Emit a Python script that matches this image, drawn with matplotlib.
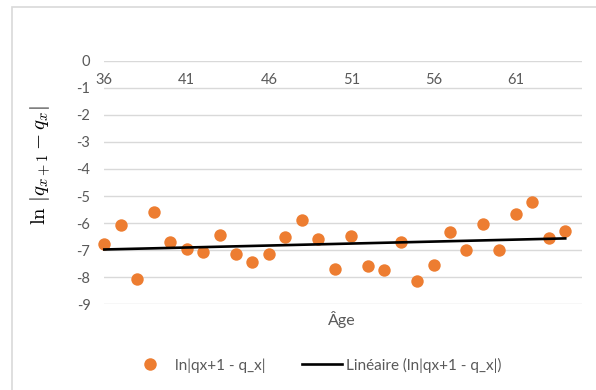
import numpy as np
import matplotlib
matplotlib.use("Agg")
import matplotlib.pyplot as plt
from matplotlib.lines import Line2D
from matplotlib.patches import Rectangle

ages = list(range(36, 65))
values = [-6.78, -6.08, -8.06, -5.59, -6.71, -6.97, -7.08, -6.43, -7.13, -7.44,
          -7.15, -6.50, -5.88, -6.60, -7.68, -6.48, -7.58, -7.74, -6.69, -8.13,
          -7.55, -6.33, -6.99, -6.04, -6.99, -5.67, -5.22, -6.55, -6.30]
x_ticks = [36, 41, 46, 51, 56, 61]
y_ticks = [0, -1, -2, -3, -4, -5, -6, -7, -8, -9]
series_label = "ln|qx+1 - q_x|"
trend_label = "Linéaire (ln|qx+1 - q_x|)"

plt.rcParams['font.family'] = ['Lato', 'DejaVu Sans']
gray_text = '#595959'
orange = '#ED7D31'
grid_c = '#D9D9D9'

fig = plt.figure(figsize=(5.96, 3.90), dpi=100)
fig.patches.append(Rectangle((12/596, -0.1), 1.2, 1 - 7/390 + 0.1, transform=fig.transFigure,
                             fill=False, edgecolor='#D9D9D9', linewidth=1.2, zorder=0))
ax = fig.add_axes([104.3/596, 1 - 304.3/390, (581.7 - 104.3)/596, (304.3 - 60.7)/390])

x = np.array(ages, dtype=float)
y = np.array(values)
coef = np.polyfit(x, y, 1)
ax.scatter(x, y, s=80, color=orange, zorder=3, linewidths=0, clip_on=False)
ax.plot([x[0], x[-1]], np.polyval(coef, [x[0], x[-1]]), color='black', lw=1.9, zorder=4,
        clip_on=False)

ax.set_xlim(36, 65)
ax.set_ylim(-9, 0)
ax.set_yticks(y_ticks)
ax.set_yticklabels([str(v) for v in y_ticks])
ax.set_xticks(x_ticks)
ax.set_xticklabels([str(v) for v in x_ticks])
for v in y_ticks:
    ax.axhline(v, color=grid_c, lw=1.0, zorder=1)
for s in ax.spines.values():
    s.set_visible(False)
ax.spines['bottom'].set_position(('data', 0))
ax.tick_params(axis='x', length=0, pad=9, labelsize=10.5, labelcolor=gray_text)
ax.tick_params(axis='y', length=0, pad=10, labelsize=10.5, labelcolor=gray_text)
ax.set_facecolor('none')

fig.text(41/596, 1 - 165/390, r'$\ln\,|q_{x+1} - q_x|$', rotation=90, fontsize=15,
         ha='center', va='center', math_fontfamily='cm')
fig.text(342/596, 1 - 320/390, 'Âge', fontsize=11.5, color=gray_text, ha='center', va='center')

handles = [Line2D([], [], marker='o', linestyle='none', markersize=9, markerfacecolor=orange,
                  markeredgewidth=0),
           Line2D([], [], color='black', lw=1.9)]
fig.legend(handles, [series_label, trend_label], loc='center', ncol=2, frameon=False,
           bbox_to_anchor=(316/596, 1 - 365/390), fontsize=11, labelcolor=gray_text,
           handlelength=2.6, handletextpad=0.3, columnspacing=2.4)

fig.savefig('out.png', dpi=100)
